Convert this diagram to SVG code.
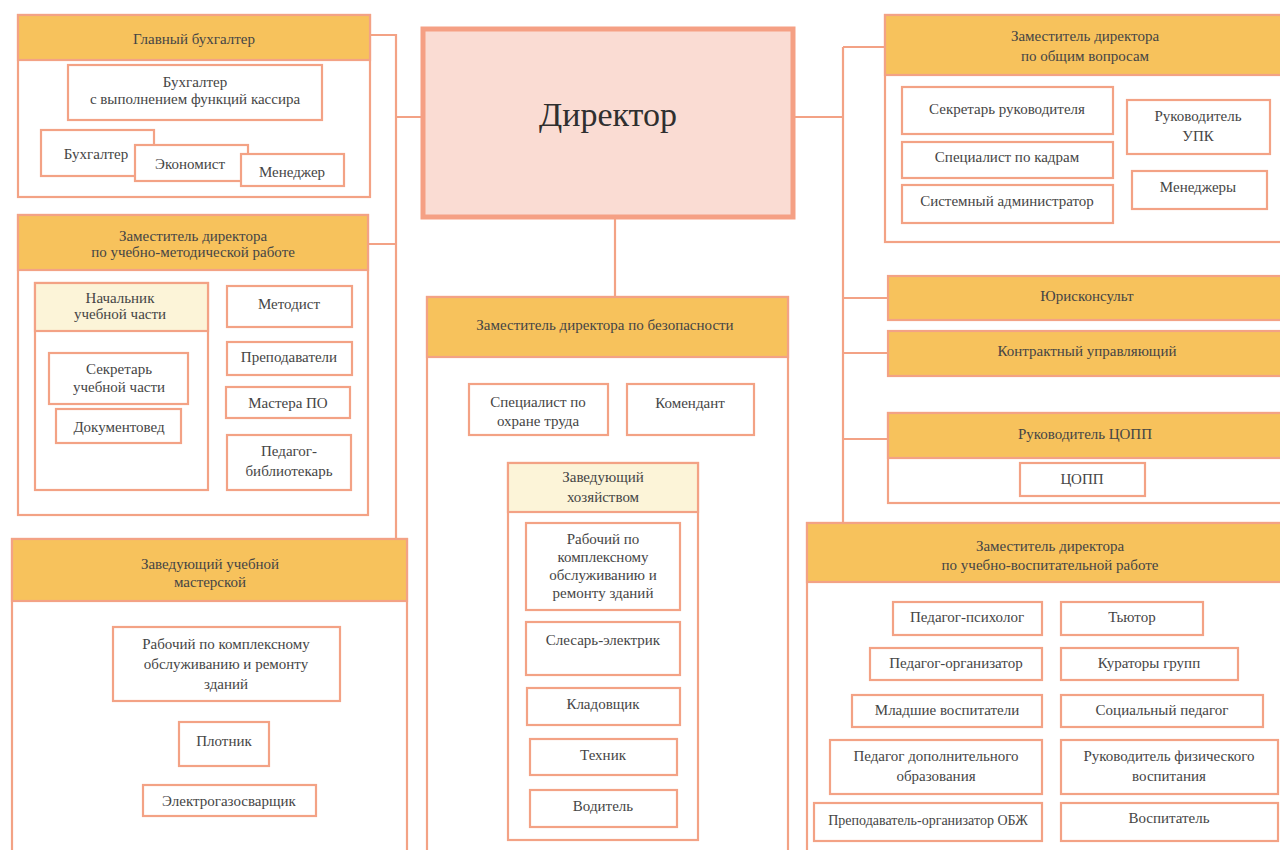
<svg xmlns="http://www.w3.org/2000/svg" width="1280" height="850" viewBox="0 0 1280 850">
<style>
.box{fill:#ffffff;stroke:#F3A285;stroke-width:2.2}
.hdr{fill:#F7C25C;stroke:#F3A285;stroke-width:2.2}
.sub{fill:#FCF4D8;stroke:#F3A285;stroke-width:2.2}
.dir{fill:#FADCD3;stroke:#F5A084;stroke-width:5}
.ln{stroke:#F3A285;stroke-width:2.2;fill:none}
text{font-family:"Liberation Serif","Times New Roman",serif;font-size:15px;fill:#454545;text-anchor:middle}
.sm{font-size:14px}
.big{font-size:34px;fill:#2f2f2f}
</style>
<rect width="1280" height="850" fill="#ffffff"/>
<g id="connectors">
<path class="ln" d="M370 35H396V539M396 117H423M368 244H396"/>
<path class="ln" d="M793 117H843M843 47V523M843 47H885M843 298H888M843 353H888M843 439H888"/>
<path class="ln" d="M615 217V297"/>
</g>
<g id="director">
<rect class="dir" x="423" y="29" width="370" height="188"/>
<text class="big" x="608" y="126">Директор</text>
</g>
<g id="chief-accountant">
<rect class="box" x="18" y="15" width="352" height="182"/>
<rect class="hdr" x="18" y="15" width="352" height="45"/>
<text x="194" y="44">Главный бухгалтер</text>
<rect class="box" x="68" y="65" width="254" height="55"/>
<text x="195" y="87">Бухгалтер</text>
<text x="195" y="104">с выполнением функций  кассира</text>
<rect class="box" x="41" y="130" width="113" height="46"/>
<text x="96" y="159">Бухгалтер</text>
<rect class="box" x="135" y="145" width="113" height="36"/>
<text x="190" y="169">Экономист</text>
<rect class="box" x="241" y="154" width="103" height="32"/>
<text x="292" y="177">Менеджер</text>
</g>
<g id="deputy-methodical">
<rect class="box" x="18" y="215" width="350" height="300"/>
<rect class="hdr" x="18" y="215" width="350" height="55"/>
<text x="193" y="241">Заместитель директора</text>
<text x="193" y="257">по учебно-методической работе</text>
<rect class="box" x="35" y="283" width="173" height="207"/>
<rect class="sub" x="35" y="283" width="173" height="48"/>
<text x="120" y="303">Начальник</text>
<text x="120" y="319">учебной части</text>
<rect class="box" x="49" y="353" width="139" height="51"/>
<text x="119" y="374">Секретарь</text>
<text x="119" y="392">учебной части</text>
<rect class="box" x="56" y="409" width="125" height="34"/>
<text x="119" y="432">Документовед</text>
<rect class="box" x="227" y="286" width="125" height="41"/>
<text x="289" y="309">Методист</text>
<rect class="box" x="227" y="342" width="125" height="33"/>
<text x="289" y="362">Преподаватели</text>
<rect class="box" x="226" y="387" width="124" height="31"/>
<text x="288" y="408">Мастера ПО</text>
<rect class="box" x="227" y="435" width="124" height="55"/>
<text x="289" y="456">Педагог-</text>
<text x="289" y="476">библиотекарь</text>
</g>
<g id="workshop-head">
<rect class="box" x="12" y="539" width="395" height="320"/>
<rect class="hdr" x="12" y="539" width="395" height="62"/>
<text x="210" y="569">Заведующий учебной</text>
<text x="210" y="587">мастерской</text>
<rect class="box" x="113" y="627" width="227" height="74"/>
<text x="226" y="649">Рабочий по комплексному</text>
<text x="226" y="669">обслуживанию и ремонту</text>
<text x="226" y="689">зданий</text>
<rect class="box" x="179" y="722" width="90" height="44"/>
<text x="224" y="746">Плотник</text>
<rect class="box" x="143" y="785" width="173" height="31"/>
<text x="229" y="806">Электрогазосварщик</text>
</g>
<g id="deputy-security">
<rect class="box" x="427" y="297" width="361" height="562"/>
<rect class="hdr" x="427" y="297" width="361" height="60"/>
<text x="605" y="330">Заместитель директора по безопасности</text>
<rect class="box" x="469" y="384" width="139" height="51"/>
<text x="538" y="407">Специалист по</text>
<text x="538" y="426">охране труда</text>
<rect class="box" x="627" y="384" width="127" height="51"/>
<text x="690" y="408">Комендант</text>
<rect class="box" x="508" y="463" width="190" height="377"/>
<rect class="sub" x="508" y="463" width="190" height="49"/>
<text x="603" y="482">Заведующий</text>
<text x="603" y="502">хозяйством</text>
<rect class="box" x="526" y="523" width="154" height="87"/>
<text x="603" y="544">Рабочий по</text>
<text x="603" y="562">комплексному</text>
<text x="603" y="580">обслуживанию и</text>
<text x="603" y="598">ремонту зданий</text>
<rect class="box" x="526" y="622" width="154" height="53"/>
<text x="603" y="645">Слесарь-электрик</text>
<rect class="box" x="527" y="688" width="153" height="37"/>
<text x="603" y="709">Кладовщик</text>
<rect class="box" x="530" y="739" width="147" height="36"/>
<text x="603" y="760">Техник</text>
<rect class="box" x="530" y="790" width="147" height="37"/>
<text x="603" y="811">Водитель</text>
</g>
<g id="deputy-general">
<rect class="box" x="885" y="15" width="405" height="227"/>
<rect class="hdr" x="885" y="15" width="405" height="60"/>
<text x="1085" y="41">Заместитель директора</text>
<text x="1085" y="61">по общим вопросам</text>
<rect class="box" x="902" y="87" width="211" height="47"/>
<text x="1007" y="114">Секретарь руководителя</text>
<rect class="box" x="902" y="142" width="211" height="36"/>
<text x="1007" y="162">Специалист по кадрам</text>
<rect class="box" x="902" y="185" width="211" height="38"/>
<text x="1007" y="206">Системный администратор</text>
<rect class="box" x="1127" y="100" width="143" height="54"/>
<text x="1198" y="121">Руководитель</text>
<text x="1198" y="141">УПК</text>
<rect class="box" x="1132" y="171" width="135" height="38"/>
<text x="1198" y="192">Менеджеры</text>
</g>
<g id="legal">
<rect class="hdr" x="888" y="276" width="402" height="44"/>
<text x="1087" y="301">Юрисконсульт</text>
</g>
<g id="contract-manager">
<rect class="hdr" x="888" y="331" width="402" height="45"/>
<text x="1087" y="356">Контрактный управляющий</text>
</g>
<g id="copp-head">
<rect class="box" x="888" y="413" width="402" height="90"/>
<rect class="hdr" x="888" y="413" width="402" height="45"/>
<text x="1085" y="439">Руководитель ЦОПП</text>
<rect class="box" x="1020" y="463" width="125" height="33"/>
<text x="1082" y="484">ЦОПП</text>
</g>
<g id="deputy-educational">
<rect class="box" x="807" y="523" width="483" height="336"/>
<rect class="hdr" x="807" y="523" width="483" height="59"/>
<text x="1050" y="551">Заместитель директора</text>
<text x="1050" y="570">по учебно-воспитательной работе</text>
<rect class="box" x="893" y="602" width="149" height="33"/>
<text x="967" y="622">Педагог-психолог</text>
<rect class="box" x="1061" y="602" width="142" height="33"/>
<text x="1132" y="622">Тьютор</text>
<rect class="box" x="870" y="648" width="172" height="32"/>
<text x="956" y="668">Педагог-организатор</text>
<rect class="box" x="1061" y="648" width="177" height="32"/>
<text x="1149" y="668">Кураторы групп</text>
<rect class="box" x="852" y="695" width="190" height="32"/>
<text x="947" y="715">Младшие воспитатели</text>
<rect class="box" x="1061" y="695" width="202" height="32"/>
<text x="1162" y="715">Социальный педагог</text>
<rect class="box" x="830" y="740" width="212" height="54"/>
<text x="936" y="761">Педагог дополнительного</text>
<text x="936" y="781">образования</text>
<rect class="box" x="1061" y="740" width="217" height="54"/>
<text x="1169" y="761">Руководитель физического</text>
<text x="1169" y="781">воспитания</text>
<rect class="box" x="814" y="803" width="228" height="38"/>
<text class="sm" x="928" y="825">Преподаватель-организатор ОБЖ</text>
<rect class="box" x="1061" y="803" width="217" height="38"/>
<text x="1169" y="823">Воспитатель</text>
</g>
</svg>
